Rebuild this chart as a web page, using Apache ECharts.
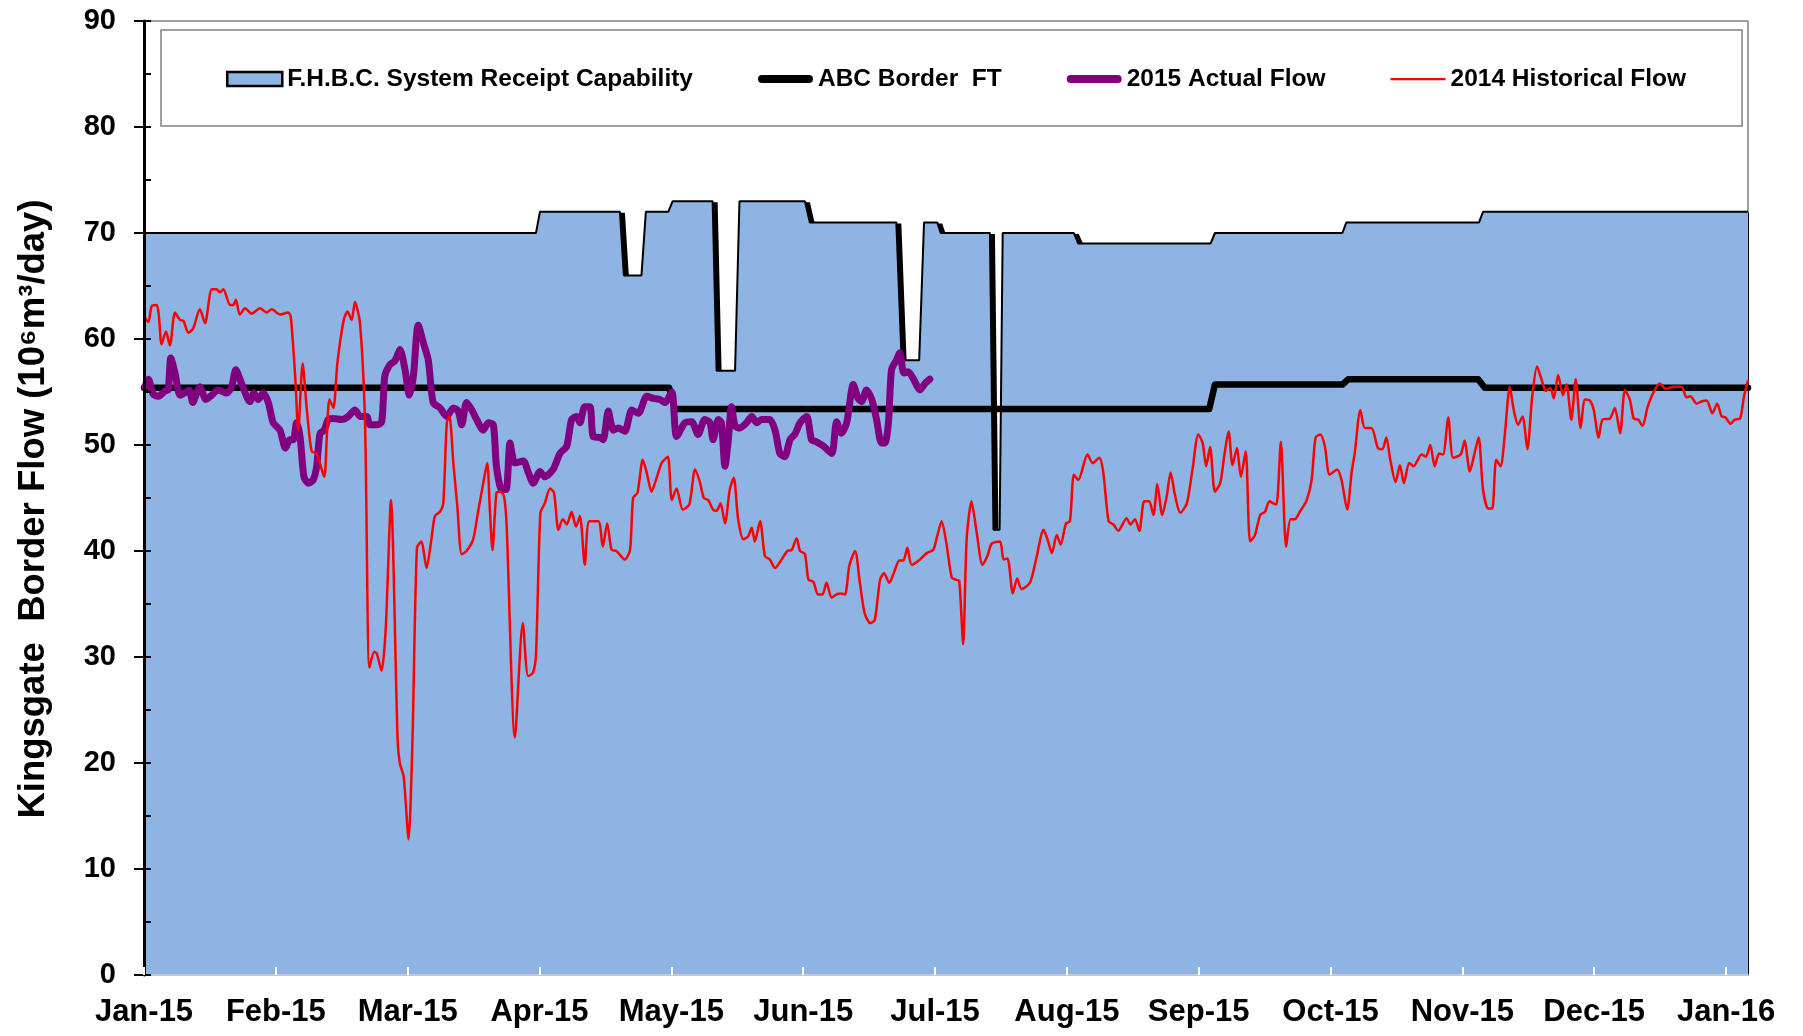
<!DOCTYPE html>
<html>
<head>
<meta charset="utf-8">
<title>Kingsgate Border Flow</title>
<script src="https://cdn.jsdelivr.net/npm/echarts@6.0.0/dist/echarts.min.js"></script>
<style>
  html, body { margin: 0; padding: 0; background: #fff; }
  #chart { width: 1803px; height: 1036px; }
</style>
</head>
<body>
<div id="chart"></div>
<script>
// x values are day offsets counted from 1 Jan 2015; the axis ticks fall every 30 days
var tickDays = [0, 30, 60, 90, 120, 150, 180, 210, 240, 270, 300, 330, 360];
var tickLabels = ['Jan-15', 'Feb-15', 'Mar-15', 'Apr-15', 'May-15', 'Jun-15', 'Jul-15', 'Aug-15', 'Sep-15', 'Oct-15', 'Nov-15', 'Dec-15', 'Jan-16'];

var capDays = [0, 89.2, 90.1, 108.3, 109.2, 113.2, 114.2, 119.3, 120.3, 129.4, 130.3, 134.5, 135.5, 150.4, 151.5, 171.2, 172.4, 176.4, 177.5, 180.5, 181.3, 192.5, 193.3, 194.7, 195.4, 211.6, 212.6, 242.7, 243.7, 272.7, 273.6, 303.8, 304.7, 365];
var capVals = [70, 70, 72, 72, 66, 66, 72, 72, 73, 73, 57, 57, 73, 73, 71, 71, 58, 58, 71, 71, 70, 70, 42, 42, 70, 70, 69, 69, 70, 70, 71, 71, 72, 72];

var ftDays = [0, 119.5, 120.8, 242.4, 243.7, 272.7, 274, 303.6, 305.1, 365];
var ftVals = [55.4, 55.4, 53.4, 53.4, 55.7, 55.7, 56.2, 56.2, 55.4, 55.4];

var actDays = [0.2, 1, 2.1, 3.3, 4.8, 5.5, 6.1, 7.05, 8.2, 9.6, 10.3, 11.1, 12, 12.7, 14.1, 15.4, 16.9, 18.8, 19.95, 20.9,
  22.2, 24.1, 25, 26, 27.15, 28.3, 29.4, 30.95, 32.2, 33.2, 34, 34.7, 35.5, 36.4, 37.4, 38.5, 39.3, 40.05, 41, 41.9,
  43, 45, 46.5, 48, 49.2, 50.7, 51.4, 53, 54.1, 54.8, 56, 57, 57.9, 58.25, 59.4, 60.4, 61.3, 62.4, 63.6, 64.7,
  65.8, 67.35, 68.9, 70.4, 71.5, 72.3, 73.4, 74.6, 75.7, 77.2, 78.35, 79.5, 80.2, 81.4, 82.4, 83.3, 84.4, 86.3, 87.45, 88.6,
  90.1, 91.2, 93.1, 94.65, 96.2, 97.3, 98.45, 99.2, 100.3, 101.5, 102.2, 103.8, 104.5, 105.65, 106.8, 107.9, 109.4, 111, 112.5, 114.4,
  115.9, 117.4, 118.55, 120.1, 121.2, 123.1, 124.6, 126.1, 127.6, 128.8, 129.5, 130.7, 131.4, 132.2, 132.9, 133.7, 134.5, 135.6, 137.1, 138.3,
  139.4, 140.5, 142.4, 143.6, 144.7, 145.8, 147, 148.1, 149.3, 150.8, 151.9, 153, 154.6, 156.5, 157.6, 158.7, 159.9, 161.4, 162.5, 163.3,
  164.4, 165.6, 166.7, 167.8, 168.6, 169.4, 170.1, 171.2, 172, 172.9, 173.9, 175, 176.6, 177.7, 178.8];
var actVals = [55.5, 56.2, 54.8, 54.6, 55.1, 55.2, 58.2, 56.8, 54.7, 55.0, 55.2, 54.0, 54.9, 55.5, 54.3, 54.7, 55.2, 54.9, 55.5, 57.1,
  55.8, 54.1, 54.9, 54.3, 54.9, 54.0, 52.1, 51.4, 49.7, 50.5, 50.5, 52.1, 50.8, 47.0, 46.4, 46.7, 48.0, 51.1, 51.4, 52.4,
  52.5, 52.4, 52.7, 53.3, 52.7, 52.7, 51.9, 51.9, 52.2, 56.5, 57.6, 57.9, 58.7, 59.0, 57.1, 54.7, 56.5, 61.3, 59.6, 58.0,
  54.0, 53.5, 52.7, 53.5, 53.2, 51.9, 54.0, 53.3, 52.4, 51.4, 52.1, 51.9, 48.0, 45.8, 45.8, 50.2, 48.3, 48.5, 47.4, 46.4,
  47.5, 47.0, 47.7, 49.2, 49.9, 52.4, 52.7, 52.1, 53.6, 53.6, 50.8, 50.7, 50.5, 53.2, 51.4, 51.6, 51.3, 53.3, 53.0, 54.6,
  54.4, 54.3, 54.0, 55.0, 50.8, 52.1, 52.2, 51.0, 52.4, 52.1, 50.5, 52.4, 52.1, 48.0, 50.2, 53.6, 51.8, 51.6, 52.1, 52.7,
  52.1, 52.4, 52.4, 51.4, 49.2, 48.9, 50.5, 51.0, 52.1, 52.7, 50.5, 50.3, 49.9, 49.2, 52.2, 51.1, 52.1, 55.7, 54.4, 54.1,
  55.2, 54.3, 52.4, 50.2, 50.2, 52.1, 57.1, 58.0, 58.7, 56.8, 56.9, 56.3, 55.2, 55.8, 56.2];

var histDays = [0.2, 1, 1.75, 2.9, 3.4, 4, 5, 5.9, 7.05, 8.2, 9, 10.1, 11.2, 12.7, 13.9, 15.4, 16.5, 17.3, 18.05, 19.6,
  20.3, 20.9, 21.8, 23, 24.5, 26.4, 27.9, 29.05, 30.95, 32.8, 33.4, 34.4, 35.1, 36.1, 37, 38.15, 39.3, 41, 41.6, 42.2,
  43.1, 44, 45.4, 46.3, 47.25, 48, 49.15, 50.3, 51.3, 52.4, 53, 54.05, 55, 56.2, 57.7, 58.2, 59.1, 60.2, 61.1, 62.1,
  63.1, 64.3, 65.4, 66.2, 67.35, 68.1, 68.9, 69.5, 70.4, 71.3, 72.3, 73.4, 74.9, 76.1, 77.2, 78.1, 78.7, 79.3, 80.2, 81,
  81.9, 82.5, 84.4, 86.2, 87.4, 88.5, 89.2, 90.2, 91.2, 92.4, 93.3, 94.3, 95.3, 96.2, 97.3, 98.3, 99.2, 100.3, 101.3, 103.4,
  104.4, 105.4, 106.4, 107.5, 109.4, 110.6, 111.3, 112.3, 113.5, 114.4, 115.5, 116.5, 117.8, 119.2, 120.1, 121.2, 122.6, 124.1, 125.4, 126.5,
  127.4, 128.4, 129.5, 130.3, 131.2, 132.2, 133.3, 134.2, 135.2, 136.4, 137.5, 138.3, 139, 140.2, 141.3, 142.4, 143.6, 145.1, 146.4, 147.4,
  148.5, 149.3, 150.4, 151.2, 152.3, 153.4, 154.4, 155.3, 156.5, 157.6, 158.5, 159.5, 160.5, 161.8, 162.9, 164, 165.3, 166.3, 167.5, 168.4,
  169.6, 170.6, 171.9, 172.8, 173.7, 174.7, 176.6, 178.1, 179.6, 180.5, 181.5, 182.6, 183.8, 184.7, 185.5, 186.4, 187.2, 188.3, 189.5, 190.8,
  191.9, 192.9, 194.8, 195.6, 196.5, 197.7, 198.7, 199.7, 201.6, 203, 204.7, 205.6, 206.6, 207.7, 208.6, 209.8, 210.7, 211.6, 212.6, 214.7,
  215.9, 217.4, 218.3, 219.5, 220.6, 221.7, 223.6, 224.5, 225.5, 226.5, 227.6, 228.7, 229.7, 230.6, 231.7, 232.7, 233.6, 234.6, 235.8, 237.3,
  238.6, 239.9, 240.9, 241.7, 242.6, 243.7, 244.9, 245.8, 246.8, 247.7, 248.7, 249.6, 250.7, 251.7, 252.8, 254, 255.1, 256.1, 257, 257.7,
  258.7, 259.9, 260.9, 261.9, 263, 264.5, 265.7, 266.6, 267.7, 268.7, 269.8, 271.5, 272.5, 273.8, 274.8, 275.5, 276.8, 277.8, 279.3, 280.8,
  281.8, 282.7, 283.6, 284.8, 285.8, 286.7, 287.9, 288.9, 290.7, 291.7, 292.7, 293.7, 294.7, 295.6, 296.8, 297.9, 299.6, 300.5, 301.7, 302.6,
  303.7, 304.7, 305.9, 306.8, 307.7, 308.7, 309.6, 310.8, 311.7, 312.7, 313.7, 314.8, 315.9, 317, 318, 319, 320, 320.8, 321.8, 322.9,
  323.7, 324.8, 325.8, 326.9, 327.9, 329, 329.9, 331, 331.9, 333.6, 334.7, 335.9, 337, 338.1, 339, 340, 341, 342.1, 343.3, 344.9,
  346.3, 348, 349.9, 351, 351.9, 353.3, 354.4, 355.6, 356.9, 358, 359, 359.9, 361, 362, 363.2, 364.1, 365];
var histVals = [62.0, 61.6, 63.1, 63.2, 62.1, 59.5, 60.7, 59.4, 62.5, 61.8, 61.7, 60.6, 61.0, 62.8, 61.5, 64.7, 64.7, 64.4, 64.7, 63.2,
  63.2, 63.7, 62.3, 62.9, 62.4, 62.9, 62.5, 62.8, 62.3, 62.5, 62.1, 56.5, 51.4, 57.7, 53.6, 49.4, 49.2, 47.0, 50.8, 54.3,
  53.5, 57.7, 61.7, 62.6, 61.8, 63.5, 61.5, 52.1, 29.0, 30.5, 30.3, 28.7, 32.6, 44.8, 22.3, 20.0, 18.7, 12.8, 22.3, 40.3,
  40.9, 38.4, 41.1, 43.3, 43.7, 44.5, 52.1, 52.7, 48.3, 44.2, 39.7, 40.0, 41.1, 43.9, 46.4, 48.3, 43.9, 40.1, 45.5, 45.6,
  45.2, 42.6, 22.4, 33.2, 28.2, 28.5, 30.2, 43.6, 44.5, 45.9, 45.5, 42.0, 43.0, 42.5, 43.7, 42.3, 43.3, 38.7, 42.8, 42.8,
  40.4, 42.6, 40.1, 40.0, 39.2, 40.1, 45.0, 45.5, 48.6, 47.4, 45.6, 46.7, 48.3, 48.9, 44.8, 45.9, 43.9, 44.4, 47.7, 46.5,
  45.0, 44.8, 43.9, 43.8, 44.5, 42.6, 45.8, 46.9, 43.0, 41.1, 41.4, 42.2, 40.9, 42.8, 39.5, 39.2, 38.4, 39.2, 40.0, 40.1,
  41.2, 40.0, 39.7, 37.3, 37.1, 35.9, 35.9, 37.0, 35.6, 35.9, 36.0, 35.9, 38.6, 40.0, 37.0, 34.1, 33.2, 33.5, 37.3, 37.9,
  37.0, 37.9, 39.1, 39.1, 40.3, 38.7, 39.2, 39.8, 40.1, 41.4, 42.8, 40.7, 37.5, 37.3, 37.2, 31.2, 41.1, 44.7, 41.7, 38.7,
  39.5, 40.7, 40.9, 39.2, 39.3, 36.0, 37.4, 36.4, 37.0, 39.2, 42.0, 41.1, 39.8, 41.5, 40.6, 42.6, 42.8, 47.2, 46.7, 49.1,
  48.3, 48.8, 47.4, 42.8, 42.5, 41.9, 43.1, 42.5, 43.0, 41.9, 44.7, 44.7, 43.4, 46.3, 43.4, 45.1, 47.4, 45.3, 43.6, 44.5,
  47.7, 51.0, 50.2, 48.0, 49.8, 45.6, 46.4, 48.9, 51.3, 48.1, 49.7, 47.0, 49.4, 40.9, 41.5, 43.4, 43.7, 44.7, 44.5, 44.4,
  50.3, 40.4, 43.0, 43.0, 43.7, 44.7, 46.7, 50.7, 51.0, 49.9, 47.2, 47.7, 46.7, 43.9, 47.4, 49.2, 53.3, 51.6, 51.6, 49.7,
  49.6, 50.7, 48.6, 46.5, 48.1, 46.4, 48.3, 48.0, 49.1, 48.9, 50.0, 48.0, 49.2, 49.1, 52.6, 48.8, 49.1, 50.4, 47.5, 48.9,
  50.7, 45.8, 44.0, 44.0, 48.6, 48.0, 50.7, 55.5, 53.3, 51.9, 52.7, 49.6, 54.6, 57.4, 56.2, 55.1, 55.4, 54.4, 56.6, 54.7,
  55.7, 52.4, 56.2, 51.6, 54.3, 54.2, 53.3, 50.7, 52.4, 52.5, 53.5, 51.1, 55.2, 54.3, 52.5, 52.4, 51.8, 53.5, 54.8, 55.8,
  55.3, 55.5, 55.5, 54.5, 54.6, 53.9, 54.1, 54.2, 53.0, 53.9, 52.7, 52.6, 52.0, 52.4, 52.5, 54.6, 56.1];

var legendNames = ['F.H.B.C. System Receipt Capability', 'ABC Border  FT', '2015 Actual Flow', '2014 Historical Flow'];
var yAxisTitle = 'Kingsgate  Border Flow (10\u2076m\u00b3/day)';

var FONT = '"Liberation Sans", Arial, sans-serif';

function toPoints(days, vals) {
    return days.map(function(d, i) {
        return [d, vals[i]];
    });
}

var chart = echarts.init(document.getElementById('chart'), null, { renderer: 'canvas' });

var option = {
    animation: false,
    backgroundColor: '#fff',
    grid: {
        left: 144,
        right: 55,
        top: 21,
        bottom: 61,
        show: true,
        borderColor: '#404040',
        borderWidth: 1,
        outerBoundsMode: 'none'
    },
    legend: {
        left: 161,
        top: 30,
        orient: 'horizontal',
        padding: [36.5, 56, 34.5, 65],
        itemGap: 65,
        itemWidth: 55,
        itemHeight: 14,
        backgroundColor: '#fff',
        borderColor: '#808080',
        borderWidth: 1.5,
        borderRadius: 0,
        selectedMode: false,
        textStyle: { fontFamily: FONT, fontSize: 24.5, fontWeight: 'bold', color: '#000' },
        data: [
            { name: legendNames[0], icon: 'rect', itemStyle: { color: '#8EB4E3', borderColor: '#000', borderWidth: 2.5 } },
            { name: legendNames[1], icon: 'path://M4,0H51A4,4 0 0 1 51,8H4A4,4 0 0 1 4,0Z', itemStyle: { color: '#000', borderWidth: 0 } },
            { name: legendNames[2], icon: 'path://M4,0H51A4,4 0 0 1 51,8H4A4,4 0 0 1 4,0Z', itemStyle: { color: '#800080', borderWidth: 0 } },
            { name: legendNames[3], icon: 'path://M0,0H110V4.5H0Z', itemStyle: { color: '#FF0000', borderWidth: 0 } }
        ]
    },
    xAxis: {
        type: 'value',
        min: 0,
        max: 365,
        z: 10,
        axisLine: { show: true, lineStyle: { color: '#c8c8c8', width: 2 } },
        axisTick: {
            show: true,
            inside: true,
            length: 8,
            customValues: tickDays,
            lineStyle: { color: '#fff', width: 2 }
        },
        axisLabel: {
            customValues: tickDays,
            formatter: function(v) {
                return tickLabels[tickDays.indexOf(v)] || '';
            },
            fontFamily: FONT,
            fontSize: 31,
            fontWeight: 'bold',
            color: '#000',
            margin: 22
        },
        splitLine: { show: false }
    },
    yAxis: [{
        type: 'value',
        position: 'left',
        min: 0,
        max: 90,
        interval: 10,
        z: 10,
        name: yAxisTitle,
        nameLocation: 'middle',
        nameGap: 92,
        nameRotate: 90,
        nameTextStyle: { fontFamily: FONT, fontSize: 36.5, fontWeight: 'bold', color: '#000', padding: [0, 22, 0, 0] },
        axisLine: { show: true, lineStyle: { color: '#000', width: 3 } },
        axisTick: { show: true, inside: false, length: 10, lineStyle: { color: '#000', width: 2 } },
        axisLabel: { fontFamily: FONT, fontSize: 29, fontWeight: 'bold', color: '#000', margin: 28 },
        splitLine: { show: false }
    }, {
        // second copy of the axis only for the short inner ticks every 5 units
        type: 'value',
        position: 'left',
        min: 0,
        max: 90,
        interval: 5,
        z: 10,
        axisLine: { show: false },
        axisTick: { show: true, inside: true, length: 7, lineStyle: { color: '#000', width: 2 } },
        axisLabel: { show: false },
        splitLine: { show: false }
    }],
    series: [{
        name: legendNames[0],
        type: 'line',
        data: toPoints(capDays, capVals),
        symbol: 'none',
        clip: false,
        lineStyle: { color: '#000', width: 2 },
        itemStyle: { color: '#8EB4E3' },
        areaStyle: {
            color: '#8EB4E3',
            opacity: 1,
            shadowColor: '#000',
            shadowOffsetX: 5,
            shadowOffsetY: 1,
            shadowBlur: 0
        }
    }, {
        name: legendNames[1],
        type: 'line',
        data: toPoints(ftDays, ftVals),
        symbol: 'none',
        lineStyle: { color: '#000', width: 6.5, cap: 'round', join: 'round' },
        itemStyle: { color: '#000' }
    }, {
        name: legendNames[2],
        type: 'line',
        data: toPoints(actDays, actVals),
        symbol: 'none',
        smooth: 0.25,
        lineStyle: { color: '#800080', width: 7, cap: 'round', join: 'round' },
        itemStyle: { color: '#800080' }
    }, {
        name: legendNames[3],
        type: 'line',
        data: toPoints(histDays, histVals),
        symbol: 'none',
        smooth: 0.25,
        lineStyle: { color: '#FF0000', width: 2.5, join: 'round' },
        itemStyle: { color: '#FF0000' }
    }]
};

chart.setOption(option);
</script>
</body>
</html>
